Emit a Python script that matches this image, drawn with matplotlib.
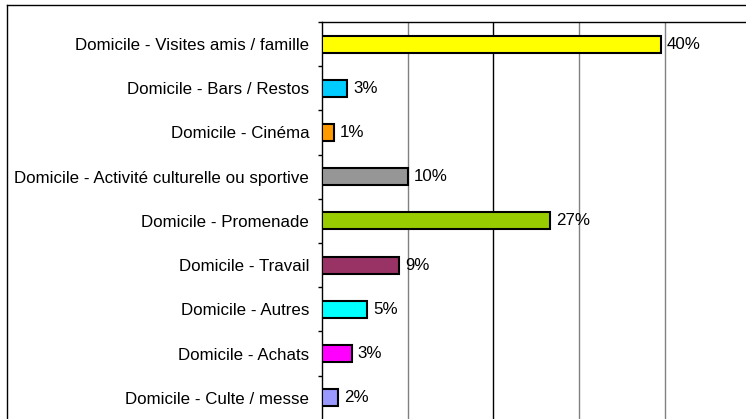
import matplotlib.pyplot as plt
import numpy as np
from matplotlib.lines import Line2D

# %% Data
categories = ["Domicile - Visites amis / famille",
              "Domicile - Bars / Restos",
              "Domicile - Cinéma",
              "Domicile - Activité culturelle ou sportive",
              "Domicile - Promenade",
              "Domicile - Travail",
              "Domicile - Autres",
              "Domicile - Achats",
              "Domicile - Culte / messe"]
values = np.array([39.5, 3.0, 1.4, 10.0, 26.6, 9.0, 5.3, 3.5, 1.9])  # [%]
value_labels = ["40%", "3%", "1%", "10%", "27%", "9%", "5%", "3%", "2%"]
colors = ["#FFFF00", "#00CCFF", "#FF9900", "#969696", "#99CC00",
          "#993366", "#00FFFF", "#FF00FF", "#9999FF"]

# %% Plot
plt.rcParams['font.family'] = ['Liberation Sans', 'DejaVu Sans']

W, H = 746, 419
fig = plt.figure(figsize=(W/100, H/100), dpi=100)
ax = fig.add_axes([321.7/W, 1 - 419.8/H, 1 - 321.7/W, (419.8 - 22)/H])

y = np.arange(len(categories))
ax.barh(y, values, height=0.385, color=colors, edgecolor="black", linewidth=1.5, zorder=3)

for k in range(len(values)):
    ax.annotate(value_labels[k], (values[k], y[k]), xytext=(6, 0),
                textcoords="offset pixels", va="center", ha="left", fontsize=12.2)

ax.set_ylim(len(categories) - 0.5, -0.5)
ax.set_xlim(0, 49.45)
ax.set_yticks(y)
ax.set_yticklabels(categories, fontsize=12.2)
ax.tick_params(axis="y", which="major", length=0, pad=9)
ax.set_yticks(np.arange(-0.5, len(categories), 1), minor=True)
ax.tick_params(axis="y", which="minor", length=3, width=1, direction="out")
ax.set_xticks([])

for xg, c in zip([10, 20, 30, 40], ["#808080", "black", "#808080", "#808080"]):
    ax.axvline(xg, color=c, linewidth=1, zorder=1)

ax.spines["right"].set_visible(False)
ax.spines["bottom"].set_visible(False)
ax.spines["top"].set_linewidth(1)
ax.spines["left"].set_linewidth(1)

# outer frame (cut off on right and bottom)
fig.add_artist(Line2D([7/W, 1], [1 - 5/H, 1 - 5/H], color="black", linewidth=1))
fig.add_artist(Line2D([7/W, 7/W], [0, 1 - 5/H], color="black", linewidth=1))

plt.savefig("out.png", dpi=100)
